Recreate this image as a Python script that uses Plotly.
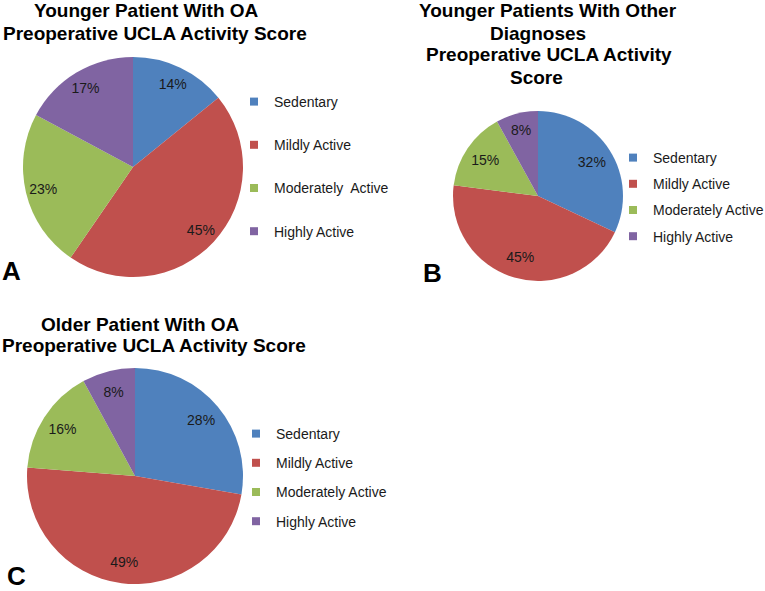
import plotly.graph_objects as go

categories = ["Sedentary", "Mildly Active", "Moderately Active", "Highly Active"]
legend_labels_a = ["Sedentary", "Mildly Active", "Moderately  Active", "Highly Active"]
values_a = [14, 45, 23, 17]
values_b = [32, 45, 15, 8]
values_c = [28, 49, 16, 8]
colors = ["#4F81BD", "#C0504D", "#9BBB59", "#8064A2"]

title_a = ["Younger Patient With OA", "Preoperative UCLA Activity Score"]
title_b = ["Younger Patients With Other", "Diagnoses",
           "Preoperative UCLA Activity", "Score"]
title_c = ["Older Patient With OA", "Preoperative UCLA Activity Score"]

W, H = 765, 591
FONT = "Liberation Sans, Arial, sans-serif"


def px(x0, x1):
    return [x0 / W, x1 / W]


def py(top, bottom):
    return [1 - bottom / H, 1 - top / H]


panels = [
    # values, legend labels, legend id, pie domain (pixels), label ring hole
    (values_a, legend_labels_a, "legend", px(23, 243), py(57, 277), 0.68),
    (values_b, categories, "legend2", px(453, 623), py(111, 281), 0.5),
    (values_c, categories, "legend3", px(27, 243), py(368, 584), 0.6),
]

fig = go.Figure()
for vals, labs, leg, dx, dy, hole in panels:
    # the slices
    fig.add_trace(go.Pie(
        labels=categories, values=vals,
        textinfo="none",
        marker=dict(colors=colors, line=dict(width=0)),
        sort=False, direction="clockwise", rotation=0,
        domain=dict(x=dx, y=dy),
        showlegend=False, hoverinfo="skip",
    ))
    # percentage labels, placed in a transparent ring so they sit near the rim
    fig.add_trace(go.Pie(
        labels=categories, values=vals,
        text=[f"{v}%" for v in vals],
        textinfo="text", textposition="inside",
        insidetextorientation="horizontal",
        textfont=dict(family=FONT, size=14, color="#1a1a1a"),
        marker=dict(colors=["rgba(0,0,0,0)"] * 4, line=dict(width=0)),
        sort=False, direction="clockwise", rotation=0, hole=hole,
        domain=dict(x=dx, y=dy),
        showlegend=False, hoverinfo="label+text",
    ))
    # legend entries (square swatches)
    for i, lab in enumerate(labs):
        fig.add_trace(go.Scatter(
            x=[None], y=[None], mode="markers",
            marker=dict(symbol="square", size=8, color=colors[i]),
            name=lab, legend=leg, legendgroup=f"{leg}_{i}",
            showlegend=True,
        ))

legend_common = dict(
    font=dict(family=FONT, size=14, color="#1a1a1a"),
    bgcolor="rgba(0,0,0,0)", borderwidth=0,
    xanchor="left", yanchor="top", traceorder="grouped",
    itemclick=False, itemdoubleclick=False,
)

fig.update_layout(
    width=W, height=H,
    margin=dict(l=0, r=0, t=0, b=0, autoexpand=False),
    paper_bgcolor="white", plot_bgcolor="white",
    xaxis=dict(visible=False), yaxis=dict(visible=False),
    legend=dict(x=234 / W, y=1 - 86 / H, tracegroupgap=22, **legend_common),
    legend2=dict(x=613 / W, y=1 - 142 / H, tracegroupgap=5, **legend_common),
    legend3=dict(x=236 / W, y=1 - 418 / H, tracegroupgap=8, **legend_common),
)

title_font = dict(family=FONT, size=19, color="black")
title_pos = [
    (title_a, [(146, 11), (155, 33.5)]),
    (title_b, [(548, 11), (538, 33), (549, 54.5), (536, 78)]),
    (title_c, [(140, 324), (154, 345)]),
]
for lines, pos in title_pos:
    for line, (x, y) in zip(lines, pos):
        fig.add_annotation(
            text=f"<b>{line}</b>", x=x / W, y=1 - y / H,
            xref="paper", yref="paper", xanchor="center", yanchor="middle",
            showarrow=False, font=title_font,
        )

for lab, x, y in [("A", 0, 271), ("B", 421, 272.5), ("C", 5, 576)]:
    fig.add_annotation(
        text=f"<b>{lab}</b>", x=x / W, y=1 - y / H, xref="paper", yref="paper",
        xanchor="left", yanchor="middle", showarrow=False,
        font=dict(family=FONT, size=26, color="black"),
    )

fig.write_html(
    "out.html",
    config={"displayModeBar": False},
    post_script="document.body.style.margin='0px';",
)
